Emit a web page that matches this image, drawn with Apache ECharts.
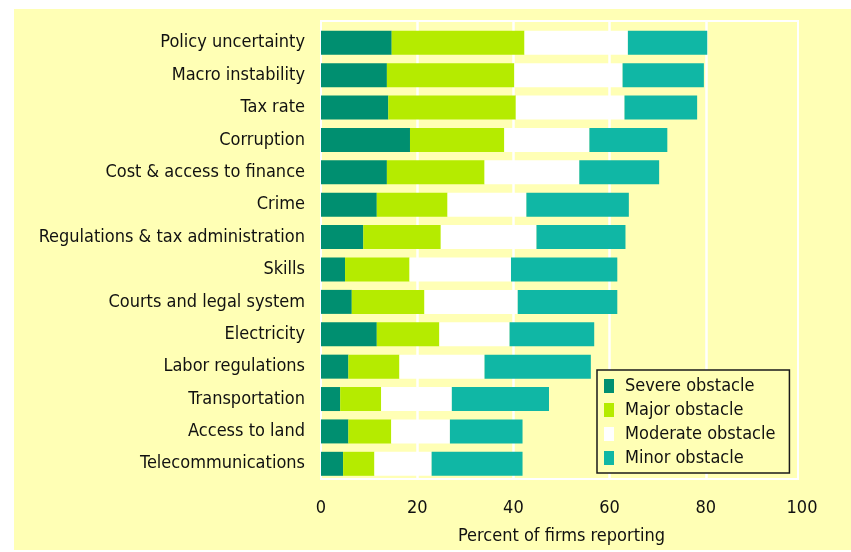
<!DOCTYPE html>
<html><head><meta charset="utf-8">
<script src="https://cdn.jsdelivr.net/npm/echarts@6/dist/echarts.min.js"></script>
<style>html,body{margin:0;padding:0;background:#fff}#c{width:851px;height:552px}</style>
</head><body><div id="c"></div>
<script>
var categories = ['Policy uncertainty','Macro instability','Tax rate','Corruption','Cost & access to finance','Crime','Regulations & tax administration','Skills','Courts and legal system','Electricity','Labor regulations','Transportation','Access to land','Telecommunications'];
var severe   = [14.7,13.7,14.0,18.5,13.7,11.6,8.8,5.0,6.4,11.6,5.7,4.0,5.7,4.6];
var major    = [27.6,26.5,26.5,19.6,20.3,14.7,16.1,13.4,15.1,13.0,10.6,8.5,8.9,6.5];
var moderate = [21.5,22.5,22.6,17.7,19.7,16.4,19.9,21.1,19.4,14.6,17.7,14.7,12.2,11.9];
var minor    = [16.5,16.9,15.1,16.2,16.6,21.3,18.5,22.1,20.7,17.6,22.1,20.2,15.1,18.9];
var seriesNames = ['Severe obstacle','Major obstacle','Moderate obstacle','Minor obstacle'];
var xTicks = [0,20,40,60,80,100];

var FONT = '"DejaVu Sans Condensed",sans-serif';
var colors = ['#008f70','#b5eb00','#ffffff','#10b7a5'];
var chart = echarts.init(document.getElementById('c'));
function bar(name, data, i){
  return {name:name,type:'bar',stack:'s',xAxisIndex:2,yAxisIndex:2,barWidth:24,data:data,
    itemStyle:{color:colors[i]},emphasis:{disabled:true}};
}
chart.setOption({
  backgroundColor:'#fff',
  animation:false,
  textStyle:{fontFamily:FONT},
  graphic:[{type:'rect',z:-10,left:14,top:9,shape:{width:837,height:541},style:{fill:'#ffffb5'}}],
  grid:[
    {left:321,top:21,width:477,height:458,show:true,borderColor:'#fff',borderWidth:2,backgroundColor:'transparent'},
    {left:321,top:21,width:481,height:458},
    {left:321,top:26.6,width:481,height:453.4}
  ],
  xAxis:[
    {gridIndex:0,type:'value',show:false,min:0,max:100},
    {gridIndex:1,type:'value',min:0,max:100,interval:20,
      axisLine:{show:false},axisTick:{show:false},
      axisLabel:{fontSize:18,color:'#111',margin:20,fontFamily:FONT,
        formatter:function(v){return xTicks.indexOf(v)>=0?String(v):'';}},
      splitLine:{show:true,showMinLine:false,showMaxLine:false,lineStyle:{color:'#fff',width:2.5}},
      name:'Percent of firms reporting',nameLocation:'middle',nameGap:48,
      nameTextStyle:{fontSize:18,color:'#111',fontFamily:FONT}},
    {gridIndex:2,type:'value',show:false,min:0,max:100}
  ],
  yAxis:[
    {gridIndex:0,type:'value',show:false},
    {gridIndex:1,type:'value',show:false},
    {gridIndex:2,type:'category',inverse:true,data:categories,
      axisLine:{show:false},axisTick:{show:false},
      axisLabel:{fontSize:18,color:'#111',margin:16,fontFamily:FONT}}
  ],
  legend:{orient:'vertical',left:597,top:370,width:192,
    data:seriesNames,itemWidth:10,itemHeight:14,itemGap:6,
    padding:[7,14,6,7],borderColor:'#1a1a1a',borderWidth:1.5,
    backgroundColor:'#ffffb5',
    icon:'rect',selectedMode:false,
    textStyle:{fontSize:18,color:'#111',fontFamily:FONT,padding:[0,0,0,6]}},
  series:[bar(seriesNames[0],severe,0),bar(seriesNames[1],major,1),bar(seriesNames[2],moderate,2),bar(seriesNames[3],minor,3)]
});
</script></body></html>
